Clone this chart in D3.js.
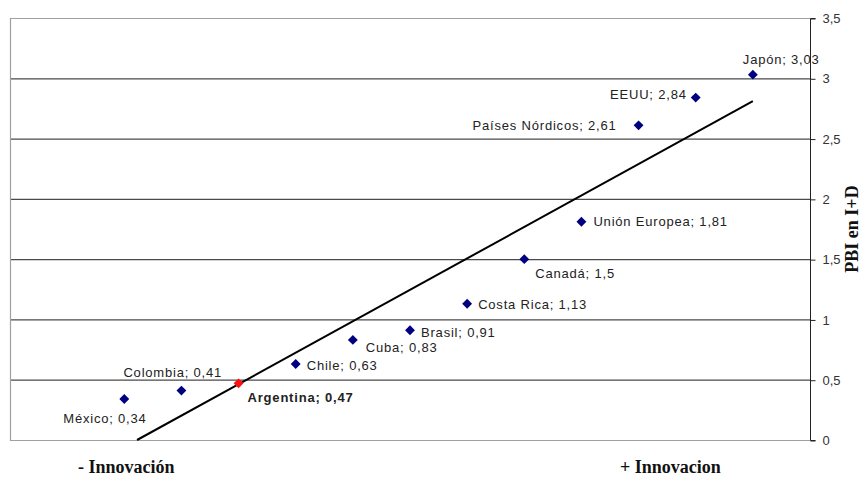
<!DOCTYPE html>
<html>
<head>
<meta charset="utf-8">
<script src="https://cdn.jsdelivr.net/npm/d3@7/dist/d3.min.js"></script>
<style>
  html, body { margin: 0; padding: 0; background: #fff; }
  svg { display: block; }
  .lbl { font-family: "Liberation Sans", Arial, sans-serif; font-size: 13px; letter-spacing: 0.8px; fill: #222; }
  .tick-lbl { font-family: "Liberation Sans", Arial, sans-serif; font-size: 13px; fill: #333; }
  .axis-title { font-family: "Liberation Serif", "Times New Roman", serif; font-size: 18px; font-weight: bold; fill: #111; }
</style>
</head>
<body>
<svg id="chart" width="863" height="477"></svg>
<script>
// Gasto en I+D como porcentaje del PBI, ordenado de menor a mayor
const countries = ["México", "Colombia", "Argentina", "Chile", "Cuba", "Brasil",
                   "Costa Rica", "Canadá", "Unión Europea", "Países Nórdicos", "EEUU", "Japón"];
const pbiID = [0.34, 0.41, 0.47, 0.63, 0.83, 0.91, 1.13, 1.5, 1.81, 2.61, 2.84, 3.03];
const highlighted = ["Argentina"];
const yTicks = [0, 0.5, 1, 1.5, 2, 2.5, 3, 3.5];
const yTickLabels = ["0", "0,5", "1", "1,5", "2", "2,5", "3", "3,5"];

// Label placement relative to each marker: [dx, dy, anchor]
const labelOffsets = [
  [-61, 19, "start"], [-58, -18, "start"], [9, 14, "start"], [11, 1, "start"],
  [13, 7, "start"], [11, 2, "start"], [11, 1, "start"], [11, 14, "start"],
  [12, 0, "start"], [-22, 0, "end"], [-9, -3, "end"], [-10, -15, "start"]
];

const fmt = v => String(v).replace(".", ",");

const svg = d3.select("#chart");
const plot = { left: 10, right: 810, top: 18, bottom: 440 };

const xs = countries.map((_, i) => i + 1);
const x = d3.scaleLinear().domain([-1, 13]).range([plot.left, plot.right]);
const y = d3.scaleLinear().domain([0, 3.5]).range([plot.bottom, plot.top]);

// Horizontal gridlines
svg.append("g").selectAll("line")
  .data(yTicks.filter(t => t > 0 && t < 3.5))
  .join("line")
  .attr("x1", plot.left).attr("x2", plot.right)
  .attr("y1", d => y(d) + 0.5).attr("y2", d => y(d) + 0.5)
  .attr("stroke", "#4a4a4a").attr("stroke-width", 1.2);

// Plot frame: top, left and bottom edges
svg.append("path")
  .attr("d", `M${plot.right},${plot.top + 0.5}H${plot.left + 0.5}V${plot.bottom + 0.5}H${plot.right}`)
  .attr("fill", "none").attr("stroke", "#a0a0a0").attr("stroke-width", 1.2);

// Right-hand value axis
const axis = d3.axisRight(y)
  .tickValues(yTicks)
  .tickSize(5)
  .tickPadding(7)
  .tickFormat((d, i) => yTickLabels[i]);
const gAxis = svg.append("g")
  .attr("transform", `translate(${plot.right + 0.5},0.5)`)
  .call(axis);
gAxis.select(".domain").attr("stroke", "#222").attr("d", `M5,${plot.top}H0V${plot.bottom}H5`);
gAxis.selectAll(".tick line").attr("stroke", "#222");
gAxis.selectAll(".tick text").attr("class", "tick-lbl").attr("font-family", null).attr("font-size", null);

// Linear trend (least squares) clipped to the plot area
const mx = d3.mean(xs), my = d3.mean(pbiID);
const slope = d3.sum(xs, (xi, i) => (xi - mx) * (pbiID[i] - my)) / d3.sum(xs, xi => (xi - mx) ** 2);
const intercept = my - slope * mx;
const xStart = Math.max(xs[0], -intercept / slope);
const xEnd = xs[xs.length - 1];
svg.append("line")
  .attr("x1", x(xStart)).attr("y1", y(slope * xStart + intercept))
  .attr("x2", x(xEnd)).attr("y2", y(slope * xEnd + intercept))
  .attr("stroke", "#000").attr("stroke-width", 2);

// Diamond markers
const diamond = d3.symbol().type(d3.symbolDiamond2).size(62);
svg.append("g").selectAll("path")
  .data(countries)
  .join("path")
  .attr("d", diamond)
  .attr("transform", (d, i) => `translate(${x(xs[i])},${y(pbiID[i])})`)
  .attr("fill", d => highlighted.includes(d) ? "#ff1010" : "#000080");

// Data labels "País; valor"
svg.append("g").selectAll("text")
  .data(countries)
  .join("text")
  .attr("class", "lbl")
  .attr("x", (d, i) => x(xs[i]) + labelOffsets[i][0])
  .attr("y", (d, i) => y(pbiID[i]) + labelOffsets[i][1])
  .attr("dy", "0.36em")
  .attr("text-anchor", (d, i) => labelOffsets[i][2])
  .attr("font-weight", d => highlighted.includes(d) ? "bold" : null)
  .attr("fill", d => highlighted.includes(d) ? "#000" : null)
  .text((d, i) => `${d}; ${fmt(pbiID[i])}`);

// Axis titles
svg.append("text").attr("class", "axis-title")
  .attr("x", 78).attr("y", 473).text("- Innovación");
svg.append("text").attr("class", "axis-title")
  .attr("x", 620).attr("y", 473).text("+ Innovacion");
svg.append("text").attr("class", "axis-title")
  .attr("transform", "translate(858,229) rotate(-90)")
  .attr("text-anchor", "middle").text("PBI en I+D");
</script>
</body>
</html>
